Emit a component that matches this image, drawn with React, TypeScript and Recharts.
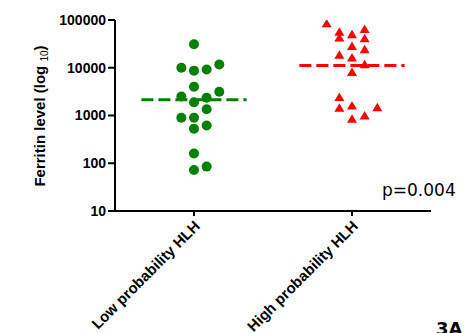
import { ScatterChart, Scatter, XAxis, YAxis, ReferenceLine } from 'recharts';

const groups = ['Low probability HLH', 'High probability HLH'];
const lowValues = [31000, 10000, 8700, 9200, 11700, 4000, 2500, 1900, 2350, 3150, 1350, 900, 900, 620, 530, 160, 85, 72];
const lowSlots = [0, -1, 0, 1, 2, 0, -1, 0, 1, 2, 1, -1, 0, 1, 0, 0, 1, 0];
const highValues = [85000, 57000, 43000, 50000, 65000, 41600, 28700, 24500, 18700, 16400, 11900, 8100, 2450, 1450, 1620, 1490, 1000, 850];
const highSlots = [-2, -1, -1, 0, 1, 1, 0, 1, -1, 0, 1, 0, -1, -1, 0, 2, 1, 0];
const medians = [2150, 11200];
const yTicks = [10, 100, 1000, 10000, 100000];
const pValue = 'p=0.004';
const panel = '3A';

const JITTER = 0.08;
const HALF = 0.333;
const FONT = '"Liberation Sans", Arial, sans-serif';

const toPoints = (vals: number[], slots: number[], pos: number) =>
  vals.map((v, i) => ({ x: pos + slots[i] * JITTER, y: v }));

const lowData = toPoints(lowValues, lowSlots, 1);
const highData = toPoints(highValues, highSlots, 2);

const GreenDot = (props: any) => <circle cx={props.cx} cy={props.cy} r={5} fill="#008000" />;

const RedTri = (props: any) => {
  const { cx, cy } = props;
  return <polygon points={`${cx},${cy - 4.5} ${cx + 5},${cy + 4} ${cx - 5},${cy + 4}`} fill="#ff0000" />;
};

const CatTick = (props: any) => {
  const { x, y, payload } = props;
  const ax = x + 7;
  const ay = y + 9;
  return (
    <text
      x={ax}
      y={ay}
      transform={`rotate(-45, ${ax}, ${ay})`}
      textAnchor="end"
      fontFamily={FONT}
      fontWeight="bold"
      fontSize={15}
      fill="#000"
    >
      {groups[payload.value - 1]}
    </text>
  );
};

const YLabel = () => (
  <text
    x={45}
    y={116}
    transform="rotate(-90, 45, 116)"
    textAnchor="middle"
    fontFamily={FONT}
    fontWeight="bold"
    fontSize={15}
    fill="#000"
  >
    Ferritin level (log <tspan fontSize={10} fontWeight="normal" dy={3}>10</tspan>
    <tspan dy={-3}>)</tspan>
  </text>
);

export default function App() {
  return (
    <div style={{ position: 'absolute', left: 0, top: 0, width: 465, height: 333, background: '#fff' }}>
      <ScatterChart width={465} height={333} margin={{ top: 20, right: 34, bottom: 0, left: 0 }}>
        <XAxis
          dataKey="x"
          type="number"
          domain={[0.5, 2.5]}
          ticks={[1, 2]}
          allowDataOverflow
          height={122}
          tickSize={5}
          tick={<CatTick />}
          axisLine={{ stroke: '#000', strokeWidth: 2 }}
          tickLine={{ stroke: '#000', strokeWidth: 2 }}
        />
        <YAxis
          dataKey="y"
          type="number"
          scale="log"
          domain={[10, 100000]}
          ticks={yTicks}
          allowDataOverflow
          width={115}
          tickSize={7}
          tick={{ fill: '#000', fontSize: 14, fontWeight: 'bold', fontFamily: FONT }}
          axisLine={{ stroke: '#000', strokeWidth: 2 }}
          tickLine={{ stroke: '#000', strokeWidth: 2 }}
          label={<YLabel />}
        />
        <ReferenceLine
          segment={[{ x: 1 - HALF, y: medians[0] }, { x: 1 + HALF, y: medians[0] }]}
          stroke="#008000"
          strokeWidth={3}
          strokeDasharray="12 5"
        />
        <ReferenceLine
          segment={[{ x: 2 - HALF, y: medians[1] }, { x: 2 + HALF, y: medians[1] }]}
          stroke="#ff0000"
          strokeWidth={3}
          strokeDasharray="12 5"
        />
        <Scatter data={lowData} shape={GreenDot} isAnimationActive={false} />
        <Scatter data={highData} shape={RedTri} isAnimationActive={false} />
      </ScatterChart>
      <svg width={465} height={333} style={{ position: 'absolute', left: 0, top: 0, pointerEvents: 'none' }}>
        <text x={382} y={196} fontFamily='"DejaVu Sans", Verdana, sans-serif' fontSize={17} fill="#000">
          {pValue}
        </text>
        <text x={436} y={335} fontFamily='"DejaVu Sans", Verdana, sans-serif' fontWeight="bold" fontSize={18} fill="#000">
          {panel}
        </text>
      </svg>
    </div>
  );
}
